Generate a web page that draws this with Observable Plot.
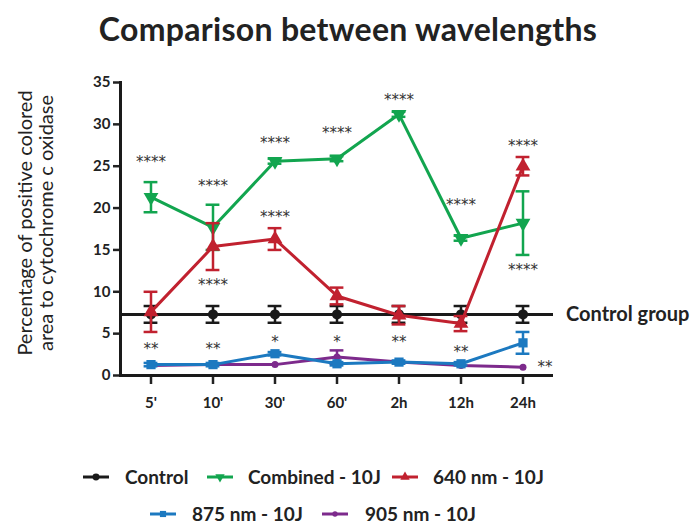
<!DOCTYPE html>
<html><head><meta charset="utf-8">
<script src="https://cdn.jsdelivr.net/npm/d3@7"></script>
<script src="https://cdn.jsdelivr.net/npm/@observablehq/plot@0.6"></script>
<style>
body{margin:0;background:#fff;font-family:Lato,sans-serif;color:#222}
#wrap{position:relative;width:696px;height:525px;overflow:hidden}
#title{position:absolute;left:0;top:8px;width:696px;text-align:center;font-weight:bold;font-size:32px;letter-spacing:0.3px;line-height:42px;color:#222}
#chart{position:absolute;left:0;top:60px}
#legend{position:absolute;left:0;top:460px;width:696px;height:65px}
.lt{position:absolute;font-weight:bold;font-size:19px;line-height:20px;white-space:nowrap;color:#222}
.sw{position:absolute}
</style></head><body>
<div id="wrap">
<div id="title">Comparison between wavelengths</div>
<div id="chart"></div>
<div id="legend"></div>
</div>
<script>
// ---- data ----
const times = ["5'", "10'", "30'", "60'", "2h", "12h", "24h"];
const control = [7.3, 7.3, 7.3, 7.3, 7.3, 7.3, 7.3];
const controlErr = [1.0, 1.0, 1.0, 1.0, 1.0, 1.0, 1.0];
const combined = [21.3, 17.7, 25.6, 25.9, 31.2, 16.4, 18.2];
const combinedErr = [1.8, 2.7, 0.3, 0.3, 0.3, 0.3, 3.8];
const nm640 = [7.6, 15.4, 16.3, 9.5, 7.2, 6.2, 25.0];
const nm640Err = [2.4, 2.8, 1.3, 1.0, 1.1, 0.9, 1.1];
const nm875 = [1.3, 1.3, 2.6, 1.4, 1.6, 1.4, 3.9];
const nm875Err = [0.2, 0.2, 0.2, 0.2, 0.2, 0.2, 1.3];
const nm905 = [1.2, 1.3, 1.3, 2.2, 1.6, 1.2, 1.0];
const nm905Err = [0, 0, 0, 0.8, 0, 0, 0];
const seriesNames = ["Control", "Combined - 10J", "640 nm - 10J", "875 nm - 10J", "905 nm - 10J"];
const yTicks = [0, 5, 10, 15, 20, 25, 30, 35];
const yLabel = "Percentage of positive colored\narea to cytochrome c oxidase";
const controlLabel = "Control group";
const starTimes = ["5'", "5'", "10'", "10'", "10'", "30'", "30'", "30'", "60'", "60'", "2h", "2h", "12h", "12h", "24h", "24h"];
const starValues = [25.8, 3.5, 23.0, 11.1, 3.5, 28.1, 19.3, 4.3, 29.3, 4.3, 33.3, 4.3, 20.7, 3.1, 27.8, 12.9];
const starLabels = ["****", "**", "****", "****", "**", "****", "****", "*", "****", "*", "****", "**", "****", "**", "****", "****"];
const sideStarTime = "24h";
const sideStarValue = 1.4;
const sideStarLabel = "**";

// ---- styles ----
const colors = ["#1a1a1a", "#12a54f", "#c1212f", "#1c79c0", "#7d2a8c"];
const symbols = ["circle", "triangle", "triangle", "square", "circle"];
const rotates = [0, 180, 0, 0, 0];
const radii = [5, 5.5, 5.5, 5.2, 3.5];
const values = [control, combined, nm640, nm875, nm905];
const errors = [controlErr, combinedErr, nm640Err, nm875Err, nm905Err];
const capInset = 8.6;

function seriesMarks(k, drawLine) {
  const rows = times.map((t, i) => ({t, v: values[k][i], lo: values[k][i] - errors[k][i], hi: values[k][i] + errors[k][i], e: errors[k][i]}));
  const eb = rows.filter(d => d.e > 0);
  const c = colors[k];
  const m = [
    Plot.ruleX(eb, {x: "t", y1: "lo", y2: "hi", stroke: c, strokeWidth: 2.5}),
    Plot.tickY(eb, {x: "t", y: "hi", stroke: c, strokeWidth: 2.5, insetLeft: capInset, insetRight: capInset}),
    Plot.tickY(eb, {x: "t", y: "lo", stroke: c, strokeWidth: 2.5, insetLeft: capInset, insetRight: capInset})
  ];
  if (drawLine) m.push(Plot.line(rows, {x: "t", y: "v", stroke: c, strokeWidth: 3}));
  m.push(Plot.dot(rows, {x: "t", y: "v", fill: c, stroke: "none", symbol: symbols[k], r: radii[k], rotate: rotates[k]}));
  return m;
}

const stars = starTimes.map((t, i) => ({t, v: starValues[i], s: starLabels[i]}));

const chart = Plot.plot({
  width: 696,
  height: 400,
  marginLeft: 120,
  marginRight: 143,
  marginTop: 22,
  marginBottom: 85,
  style: {fontFamily: "Lato, sans-serif", color: "#222", overflow: "visible", background: "transparent"},
  x: {type: "band", domain: times, paddingInner: 0.5, paddingOuter: 0.2127, align: 0.5},
  y: {domain: [0, 35]},
  marks: [
    Plot.axisY({ticks: yTicks, tickSize: 7, tickPadding: 3, fontSize: 15, fontWeight: "bold", strokeWidth: 2.5, label: null}),
    Plot.axisX({tickSize: 9, tickPadding: 13, fontSize: 15, fontWeight: "bold", strokeWidth: 2.5, label: null}),
    Plot.text([yLabel], {frameAnchor: "left", textAnchor: "middle", dx: -85, dy: -6, rotate: -90, fontSize: 20, lineHeight: 1.05, fill: "#222"}),
    Plot.ruleY([control[0]], {stroke: colors[0], strokeWidth: 3}),
    ...seriesMarks(0, false),
    ...seriesMarks(1, true),
    ...seriesMarks(2, true),
    ...seriesMarks(4, true),
    ...seriesMarks(3, true),
    Plot.frame({anchor: "left", strokeWidth: 3, stroke: "#1a1a1a"}),
    Plot.ruleY([0], {strokeWidth: 3, stroke: "#1a1a1a"}),
    Plot.text(stars, {x: "t", y: "v", text: "s", fontFamily: "DejaVu Sans", fontSize: 15, fill: "#333", dy: 3}),
    Plot.text([{t: sideStarTime, v: sideStarValue, s: sideStarLabel}], {x: "t", y: "v", text: "s", fontFamily: "DejaVu Sans", fontSize: 15, fill: "#333", dx: 22, dy: 3}),
    Plot.text([controlLabel], {x: () => times[times.length - 1], y: () => control[0], dx: 43, textAnchor: "start", fontSize: 20, fontWeight: "bold", fill: "#222"})
  ]
});
document.getElementById("chart").appendChild(chart);

// ---- legend ----
const legPos = [
  {sx: 83, tx: 125, y: 7},
  {sx: 207, tx: 248, y: 7},
  {sx: 392, tx: 433, y: 7},
  {sx: 150, tx: 192, y: 44},
  {sx: 322, tx: 365, y: 44}
];
const leg = document.getElementById("legend");
seriesNames.forEach((name, k) => {
  const p = legPos[k];
  const svg = d3.create("svg").attr("class", "sw").attr("width", 26).attr("height", 16)
    .style("left", p.sx + "px").style("top", (p.y + 2) + "px");
  svg.append("line").attr("x1", 0).attr("x2", 26).attr("y1", 8).attr("y2", 8).attr("stroke", colors[k]).attr("stroke-width", 3);
  const sym = {circle: d3.symbolCircle, triangle: d3.symbolTriangle, square: d3.symbolSquare}[symbols[k]];
  const size = k === 4 ? 22 : 38;
  svg.append("path").attr("d", d3.symbol(sym, size)()).attr("fill", colors[k])
    .attr("transform", `translate(13,8) rotate(${rotates[k]})`);
  leg.appendChild(svg.node());
  const t = document.createElement("div");
  t.className = "lt";
  t.style.left = p.tx + "px";
  t.style.top = p.y + "px";
  t.textContent = name;
  leg.appendChild(t);
});
</script>
</body></html>
